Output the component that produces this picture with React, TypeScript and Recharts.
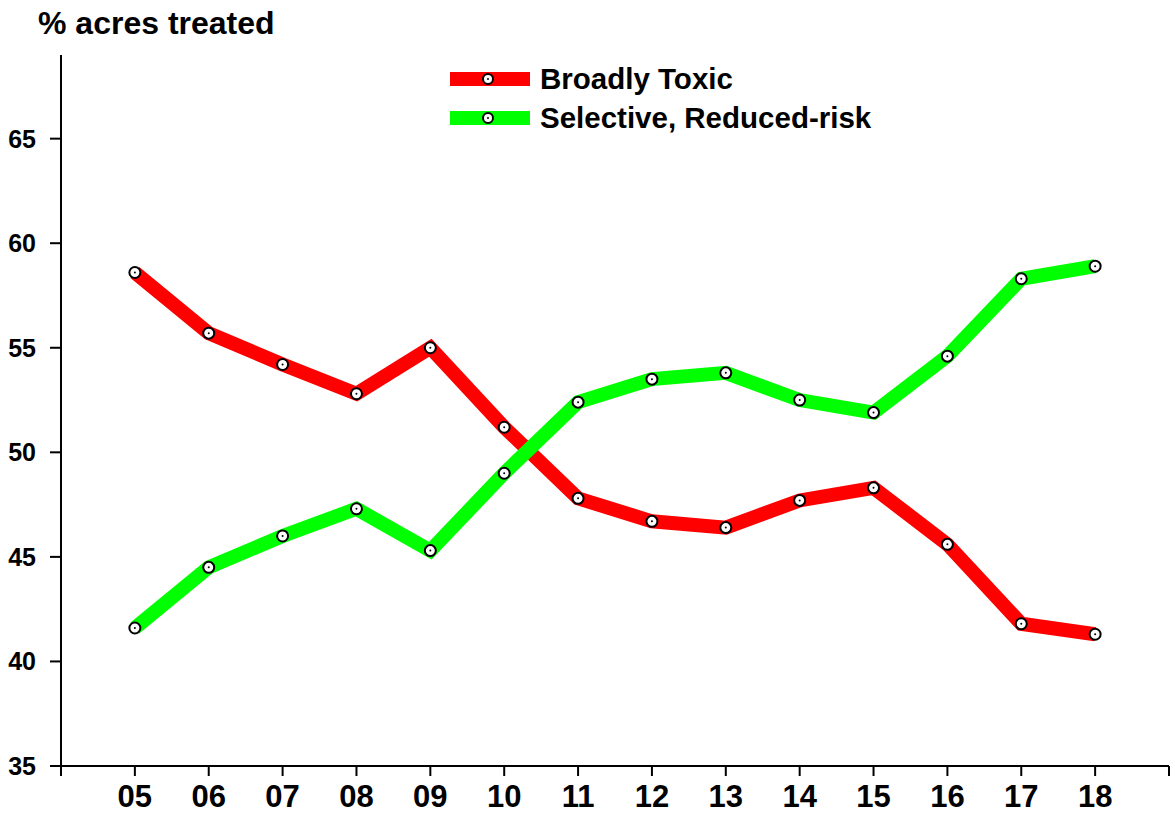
import React from "react";
import { LineChart, Line, XAxis, YAxis } from "recharts";

const years = [5, 6, 7, 8, 9, 10, 11, 12, 13, 14, 15, 16, 17, 18];
const yearLabels = ["05", "06", "07", "08", "09", "10", "11", "12", "13", "14", "15", "16", "17", "18"];
const broadlyToxic = [58.6, 55.7, 54.2, 52.8, 55.0, 51.2, 47.8, 46.7, 46.4, 47.7, 48.3, 45.6, 41.8, 41.3];
const selective = [41.6, 44.5, 46.0, 47.3, 45.3, 49.0, 52.4, 53.5, 53.8, 52.5, 51.9, 54.6, 58.3, 58.9];
const yTicks = [35, 40, 45, 50, 55, 60, 65];
const xTicks = [4, 5, 6, 7, 8, 9, 10, 11, 12, 13, 14, 15, 16, 17, 18, 19];

const data = years.map((y, i) => ({
  year: y,
  label: yearLabels[i],
  toxic: broadlyToxic[i],
  selective: selective[i],
}));

const FONT = "'Liberation Sans', Arial, sans-serif";

const Dot = (props: any) => {
  const { cx, cy } = props;
  if (cx == null || cy == null) return null;
  return (
    <g>
      <circle cx={cx} cy={cy} r={5.5} fill="#fff" stroke="#000" strokeWidth={2} />
      <circle cx={cx} cy={cy} r={1} fill="#000" />
    </g>
  );
};

const legendItems = [
  { name: "Broadly Toxic", color: "#ff0000" },
  { name: "Selective, Reduced-risk", color: "#00ff00" },
];

const labelFor = (v: number) => {
  const idx = years.indexOf(v);
  return idx >= 0 ? yearLabels[idx] : "";
};

export default function App() {
  return (
    <div style={{ position: "absolute", left: 0, top: 0, width: 1175, height: 825, background: "#fff" }}>
      <LineChart width={1175} height={825} data={data} margin={{ top: 55, right: 6, bottom: 0, left: 0 }}>
        <text x={38} y={23} dy="0.35em" fontFamily={FONT} fontWeight="bold" fontSize={32} fill="#000">
          % acres treated
        </text>
        <g transform="translate(450, 79)">
          {legendItems.map((it, i) => (
            <g key={it.name} transform={`translate(0, ${i * 39})`}>
              <line x1={0} x2={80} y1={0} y2={0} stroke={it.color} strokeWidth={14} />
              <circle cx={38} cy={0} r={5} fill="#fff" stroke="#000" strokeWidth={2} />
              <circle cx={38} cy={0} r={1} fill="#000" />
              <text x={90} y={0} dy="0.35em" fontFamily={FONT} fontWeight="bold" fontSize={29.5} fill="#000">
                {it.name}
              </text>
            </g>
          ))}
        </g>
        <XAxis
          dataKey="year"
          type="number"
          domain={[4, 19]}
          ticks={xTicks}
          interval={0}
          tickFormatter={labelFor}
          height={59}
          axisLine={{ stroke: "#000", strokeWidth: 2 }}
          tickLine={{ stroke: "#000", strokeWidth: 2 }}
          tickSize={10}
          tick={{ fill: "#000", fontFamily: FONT, fontWeight: "bold", fontSize: 31, dy: 7 }}
        />
        <YAxis
          type="number"
          domain={[35, 69]}
          ticks={yTicks}
          interval={0}
          width={61}
          axisLine={{ stroke: "#000", strokeWidth: 2 }}
          tickLine={{ stroke: "#000", strokeWidth: 2 }}
          tickSize={11}
          tick={{ fill: "#000", fontFamily: FONT, fontWeight: "bold", fontSize: 25, dx: -12 }}
        />
        <Line
          dataKey="toxic"
          name="Broadly Toxic"
          stroke="#ff0000"
          strokeWidth={14}
          strokeLinejoin="miter"
          dot={<Dot />}
          activeDot={false}
          isAnimationActive={false}
        />
        <Line
          dataKey="selective"
          name="Selective, Reduced-risk"
          stroke="#00ff00"
          strokeWidth={14}
          strokeLinejoin="miter"
          dot={<Dot />}
          activeDot={false}
          isAnimationActive={false}
        />
      </LineChart>
    </div>
  );
}
